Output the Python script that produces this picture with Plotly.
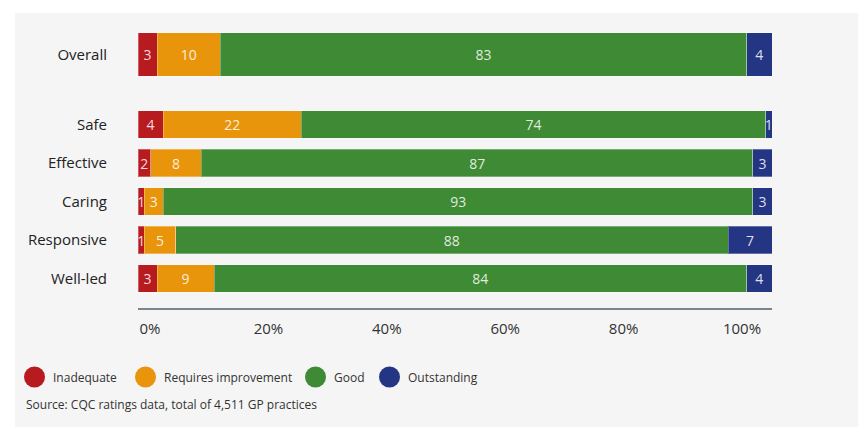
import plotly.graph_objects as go

# ---- data ----
categories = ["Overall", "Safe", "Effective", "Caring", "Responsive", "Well-led"]
series_names = ["Inadequate", "Requires improvement", "Good", "Outstanding"]
inadequate = [3, 4, 2, 1, 1, 3]
requires_improvement = [10, 22, 8, 3, 5, 9]
good = [83, 74, 87, 93, 88, 84]
outstanding = [4, 1, 3, 3, 7, 4]
tick_values = [0, 20, 40, 60, 80, 100]
tick_labels = ["0%", "20%", "40%", "60%", "80%", "100%"]
source_text = "Source: CQC ratings data, total of 4,511 GP practices"

# ---- style ----
colors = ["#b71a1f", "#e9950c", "#3f8a34", "#233583"]
FONT = "Open Sans"
W, H = 858, 427
ML, MR, MT, MB = 138, 86, 13, 119
PW, PH = W - ML - MR, H - MT - MB

# layout positions (gap after "Overall")
positions = [0.0] + [1.82 + i for i in range(len(categories) - 1)]
widths = [1.12] + [0.714] * (len(categories) - 1)

series = [inadequate, requires_improvement, good, outstanding]
totals = [sum(v) for v in zip(*series)]

fig = go.Figure()
for name, vals, col in zip(series_names, series, colors):
    fig.add_trace(go.Bar(
        name=name,
        orientation="h",
        y=positions,
        x=[v / t * 100 for v, t in zip(vals, totals)],
        width=widths,
        text=[str(v) for v in vals],
        texttemplate="%{text}",
        textposition="inside",
        insidetextanchor="middle",
        constraintext="none",
        textfont=dict(family=FONT, size=14, color="rgba(255,255,255,0.85)"),
        marker=dict(color=col, line=dict(color="rgba(255,255,255,0.3)", width=1)),
        showlegend=False,
        hoverinfo="skip",
    ))

# empty trace so that the percentage label axis is drawn
fig.add_trace(go.Scatter(x=[], y=[], xaxis="x2", yaxis="y", showlegend=False,
                         hoverinfo="skip", mode="markers"))


def px_x(px):
    return (px - ML) / PW


def px_y(py):
    return (H - MB - py) / PH


shapes = [dict(type="rect", xref="paper", yref="paper",
               x0=px_x(15), x1=px_x(W + 2), y0=px_y(H + 2), y1=px_y(13),
               fillcolor="#f5f5f5", line=dict(width=0), layer="below")]
annotations = []
legend_cx = [34.5, 145.5, 315.5, 389.5]
legend_cy = 377
for cx, name, col in zip(legend_cx, series_names, colors):
    shapes.append(dict(type="circle", xref="paper", yref="paper",
                       xsizemode="pixel", ysizemode="pixel",
                       xanchor=px_x(cx), yanchor=px_y(legend_cy),
                       x0=-10.5, x1=10.5, y0=-10.5, y1=10.5,
                       fillcolor=col, line=dict(width=0)))
    annotations.append(dict(xref="paper", yref="paper", x=px_x(cx + 16.5), y=px_y(legend_cy),
                            xanchor="left", yanchor="middle", showarrow=False, text=name,
                            font=dict(family=FONT, size=12, color="#333333")))
annotations.append(dict(xref="paper", yref="paper", x=px_x(24), y=px_y(404),
                        xanchor="left", yanchor="middle", showarrow=False, text=source_text,
                        font=dict(family=FONT, size=12, color="#333333")))

fig.update_layout(
    width=W, height=H, autosize=False,
    margin=dict(l=ML, r=MR, t=MT, b=MB, pad=0),
    paper_bgcolor="white", plot_bgcolor="rgba(0,0,0,0)",
    barmode="stack", bargap=0,
    font=dict(family=FONT, color="#333333"),
    shapes=shapes, annotations=annotations,
    xaxis=dict(range=[0, 100], showgrid=False, zeroline=False, showticklabels=False,
               showline=True, linecolor="#7b8590", linewidth=2, ticks="", fixedrange=True),
    xaxis2=dict(overlaying="x", side="bottom", anchor="y", range=[-2.03, 105.07],
                tickvals=tick_values, ticktext=tick_labels, showgrid=False, zeroline=False,
                showline=False, ticks="", ticklabelstandoff=10,
                tickfont=dict(family=FONT, size=15, color="#333333"), fixedrange=True),
    yaxis=dict(range=[6.584, -1.078], tickvals=positions, ticktext=categories,
               showgrid=False, zeroline=False, showline=False, ticks="",
               ticklabelstandoff=30,
               tickfont=dict(family=FONT, size=15, color="#222222"), fixedrange=True),
)

fig.write_html("out.html", config={"displayModeBar": False, "staticPlot": True},
               post_script="document.body.style.margin='0';document.body.style.overflow='hidden';")
